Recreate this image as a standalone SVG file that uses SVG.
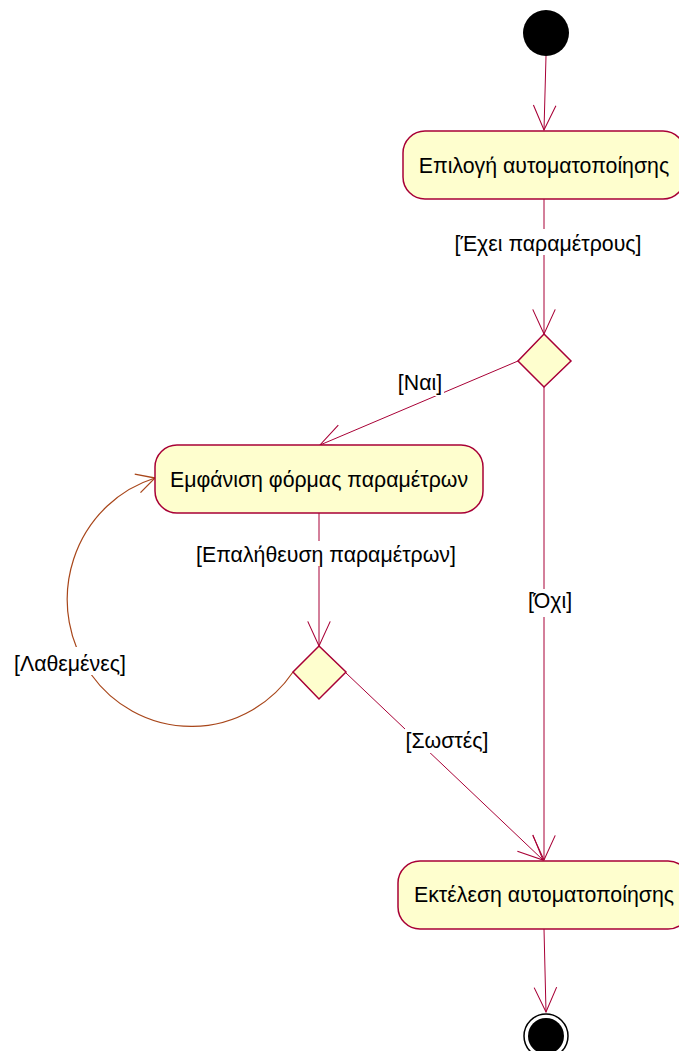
<svg xmlns="http://www.w3.org/2000/svg" width="679" height="1051" viewBox="0 0 679 1051">
  <style>
    .box { fill: #FEFECE; stroke: #A80036; stroke-width: 1.5; }
    .dia { fill: #FEFECE; stroke: #A80036; stroke-width: 1.5; }
    .edge { fill: none; stroke: #A80036; stroke-width: 1; }
    .loop { fill: none; stroke: #A8461A; stroke-width: 1.2; }
    .t { font-family: "Liberation Sans", Arial, sans-serif; font-size: 21.3px; fill: #000; text-anchor: middle; }
    .bg { fill: #FFFFFF; }
  </style>
  <defs>
    <marker id="arr" markerUnits="userSpaceOnUse" markerWidth="30" markerHeight="30" viewBox="-26 -13 28 26" refX="0" refY="0" orient="auto">
      <path d="M-23,-10.5 L0,0 L-23,10.5" fill="none" stroke="#A80036" stroke-width="1"/>
    </marker>
    <marker id="arrLoop" markerUnits="userSpaceOnUse" markerWidth="30" markerHeight="30" viewBox="-26 -13 28 26" refX="0" refY="0" orient="auto">
      <path d="M-17,-9 L0,0 L-17,9" fill="none" stroke="#A8461A" stroke-width="1.2"/>
    </marker>
  </defs>

  <!-- connectors -->
  <g id="connectors">
    <path class="edge" d="M546,56 L544,130" marker-end="url(#arr)"/>
    <path class="edge" d="M544,199 L544,334" marker-end="url(#arr)"/>
    <path class="edge" d="M518,361 L320,445" marker-end="url(#arr)"/>
    <path class="edge" d="M544,387 L544,860" marker-end="url(#arr)"/>
    <path class="edge" d="M319,513 L319,646" marker-end="url(#arr)"/>
    <path class="edge" d="M346,673 L543,860" marker-end="url(#arr)"/>
    <path class="loop" d="M293,672 A124,127 0 1 1 155,478" marker-end="url(#arrLoop)"/>
    <path class="edge" d="M544,929 L546,1012" marker-end="url(#arr)"/>

    <!-- guard labels -->
    <rect class="bg" x="453" y="229" width="192" height="26"/>
    <text class="t" x="548" y="251">[Έχει παραμέτρους]</text>
    <rect class="bg" x="397" y="370" width="47" height="26"/>
    <text class="t" x="420" y="390">[Ναι]</text>
    <rect class="bg" x="193" y="541" width="266" height="25"/>
    <text class="t" x="326" y="562">[Επαλήθευση παραμέτρων]</text>
    <rect class="bg" x="526" y="589" width="48" height="28"/>
    <text class="t" x="550" y="608">[Όχι]</text>
    <rect class="bg" x="405" y="728" width="86" height="25"/>
    <text class="t" x="447" y="748">[Σωστές]</text>
    <rect class="bg" x="13" y="647" width="115" height="28"/>
    <text class="t" x="70" y="671">[Λαθεμένες]</text>
  </g>

  <g id="start">
    <circle cx="546" cy="33" r="23" fill="#000"/>
  </g>

  <g id="select">
    <rect class="box" x="403" y="131" width="282" height="68" rx="22"/>
    <text class="t" x="544" y="173">Επιλογή αυτοματοποίησης</text>
  </g>

  <g id="hasParams">
    <polygon class="dia" points="544,334 571,361 544,387 518,361"/>
  </g>

  <g id="showForm">
    <rect class="box" x="155" y="445" width="328" height="68" rx="22"/>
    <text class="t" x="319" y="487">Εμφάνιση φόρμας παραμέτρων</text>
  </g>

  <g id="validate">
    <polygon class="dia" points="319,646 346,672 319,699 293,672"/>
  </g>

  <g id="execute">
    <rect class="box" x="398" y="861" width="292" height="68" rx="22"/>
    <text class="t" x="544" y="902">Εκτέλεση αυτοματοποίησης</text>
  </g>

  <g id="end">
    <circle cx="546" cy="1036" r="22" fill="none" stroke="#000" stroke-width="1.5"/>
    <circle cx="546" cy="1036" r="18" fill="#000"/>
  </g>
</svg>
